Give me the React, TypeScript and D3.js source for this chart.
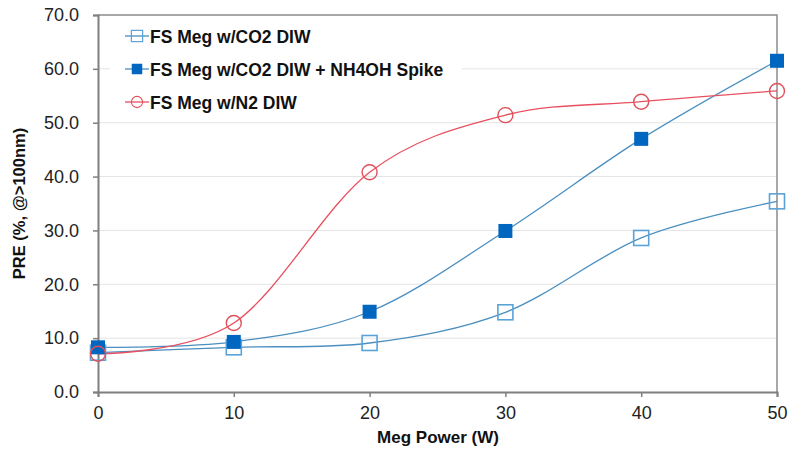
import React, { useEffect, useRef } from 'react';
import * as d3 from 'd3';

const powers = [0, 10, 20, 30, 40, 50];
const co2Diw = [7.3, 8.3, 9.1, 14.8, 28.6, 35.4];
const co2Nh4oh = [8.3, 9.3, 14.9, 29.9, 47.0, 61.5];
const n2Diw = [7.1, 12.8, 40.8, 51.4, 53.9, 55.9];
const yTicks = [0, 10, 20, 30, 40, 50, 60, 70];
const seriesNames = ['FS Meg w/CO2 DIW', 'FS Meg w/CO2 DIW + NH4OH Spike', 'FS Meg w/N2 DIW'];

const App = () => {
  const ref = useRef<SVGSVGElement | null>(null);

  useEffect(() => {
    const svg = d3.select(ref.current);
    svg.selectAll('*').remove();

    const width = 788;
    const height = 450;
    const left = 98;
    const right = 777;
    const top = 15;
    const bottom = 392;
    const font = 'Liberation Sans, Arial, sans-serif';

    const x = d3.scaleLinear().domain([0, 50]).range([left, right]);
    const y = d3.scaleLinear().domain([0, 70]).range([bottom, top]);

    svg.attr('width', width).attr('height', height);
    svg.append('rect').attr('width', width).attr('height', height).attr('fill', '#fff');

    // grid
    svg
      .append('g')
      .selectAll('line')
      .data(yTicks.slice(1, -1))
      .enter()
      .append('line')
      .attr('x1', left)
      .attr('x2', right)
      .attr('y1', (d) => y(d))
      .attr('y2', (d) => y(d))
      .attr('stroke', '#e4e4e4')
      .attr('stroke-width', 1);

    // frame top + right
    svg
      .append('path')
      .attr('d', `M${left},${top}H${right}V${bottom}`)
      .attr('fill', 'none')
      .attr('stroke', '#8c8c8c')
      .attr('stroke-width', 1.5);

    // axes
    const yAxis = svg
      .append('g')
      .attr('transform', `translate(${left},0)`)
      .call(d3.axisLeft(y).tickValues(yTicks).tickSize(5).tickFormat(d3.format('.1f')));
    const xAxis = svg
      .append('g')
      .attr('transform', `translate(0,${bottom})`)
      .call(d3.axisBottom(x).tickValues(powers).tickSize(5).tickFormat(d3.format('d')));

    [yAxis, xAxis].forEach((g) => {
      g.select('.domain').attr('stroke', '#7f7f7f').attr('stroke-width', 2);
      g.selectAll('.tick line').attr('stroke', '#7f7f7f').attr('stroke-width', 1.5);
      g.selectAll('text')
        .attr('fill', '#222')
        .style('font-family', font)
        .style('font-size', '18px');
    });
    yAxis.selectAll('text').attr('x', -19);
    xAxis.selectAll('text').attr('y', 14);

    svg
      .append('text')
      .attr('x', 438)
      .attr('y', 443)
      .attr('text-anchor', 'middle')
      .style('font-family', font)
      .style('font-size', '17px')
      .style('font-weight', 'bold')
      .attr('fill', '#111')
      .text('Meg Power (W)');

    svg
      .append('text')
      .attr('transform', `translate(25,${(top + bottom) / 2}) rotate(-90)`)
      .attr('text-anchor', 'middle')
      .style('font-family', font)
      .style('font-size', '16.5px')
      .style('font-weight', 'bold')
      .attr('fill', '#111')
      .text('PRE (%, @>100nm)');

    const series = [
      { name: seriesNames[0], values: co2Diw, line: '#4a8fc0', marker: 'openSquare', color: '#5aa3d8' },
      { name: seriesNames[1], values: co2Nh4oh, line: '#4a8fc0', marker: 'filledSquare', color: '#0066c0' },
      { name: seriesNames[2], values: n2Diw, line: '#e8505f', marker: 'circle', color: '#e0505a' },
    ];

    const lineGen = d3
      .line<number>()
      .x((_, i) => x(powers[i]))
      .y((d) => y(d))
      .curve(d3.curveCardinal.tension(0));

    const drawMarker = (g: any, type: string, color: string, cx: number, cy: number) => {
      if (type === 'openSquare') {
        g.append('rect')
          .attr('x', cx - 7.5)
          .attr('y', cy - 7.5)
          .attr('width', 15)
          .attr('height', 15)
          .attr('fill', 'none')
          .attr('stroke', color)
          .attr('stroke-width', 1.6);
      } else if (type === 'filledSquare') {
        g.append('rect')
          .attr('x', cx - 7)
          .attr('y', cy - 7)
          .attr('width', 14)
          .attr('height', 14)
          .attr('fill', color);
      } else {
        g.append('circle')
          .attr('cx', cx)
          .attr('cy', cy)
          .attr('r', 7.5)
          .attr('fill', 'none')
          .attr('stroke', color)
          .attr('stroke-width', 1.4);
      }
    };

    // legend background hides grid behind it
    svg.append('rect').attr('x', 110).attr('y', 20).attr('width', 352).attr('height', 100).attr('fill', '#fff');

    series.forEach((s) => {
      svg
        .append('path')
        .datum(s.values)
        .attr('d', lineGen)
        .attr('fill', 'none')
        .attr('stroke', s.line)
        .attr('stroke-width', 1.3);
    });
    series.forEach((s) => {
      const g = svg.append('g');
      s.values.forEach((v, i) => drawMarker(g, s.marker, s.color, x(powers[i]), y(v)));
    });

    // legend
    series.forEach((s, i) => {
      const ly = 36 + i * 33;
      const g = svg.append('g');
      g.append('line')
        .attr('x1', 125)
        .attr('x2', 149)
        .attr('y1', ly)
        .attr('y2', ly)
        .attr('stroke', s.line)
        .attr('stroke-width', 1.3);
      const lg = g.append('g').attr('transform', `translate(137,${ly}) scale(0.75) translate(-137,${-ly})`);
      drawMarker(lg, s.marker, s.color, 137, ly);
      g.append('text')
        .attr('x', 150)
        .attr('y', ly + 6.5)
        .style('font-family', font)
        .style('font-size', '17.5px')
        .style('font-weight', 'bold')
        .attr('fill', '#111')
        .text(s.name);
    });
  }, []);

  return (
    <div style={{ position: 'absolute', left: 0, top: 0, width: 788, height: 450, overflow: 'hidden' }}>
      <svg ref={ref} style={{ display: 'block' }}></svg>
    </div>
  );
};

export default App;
